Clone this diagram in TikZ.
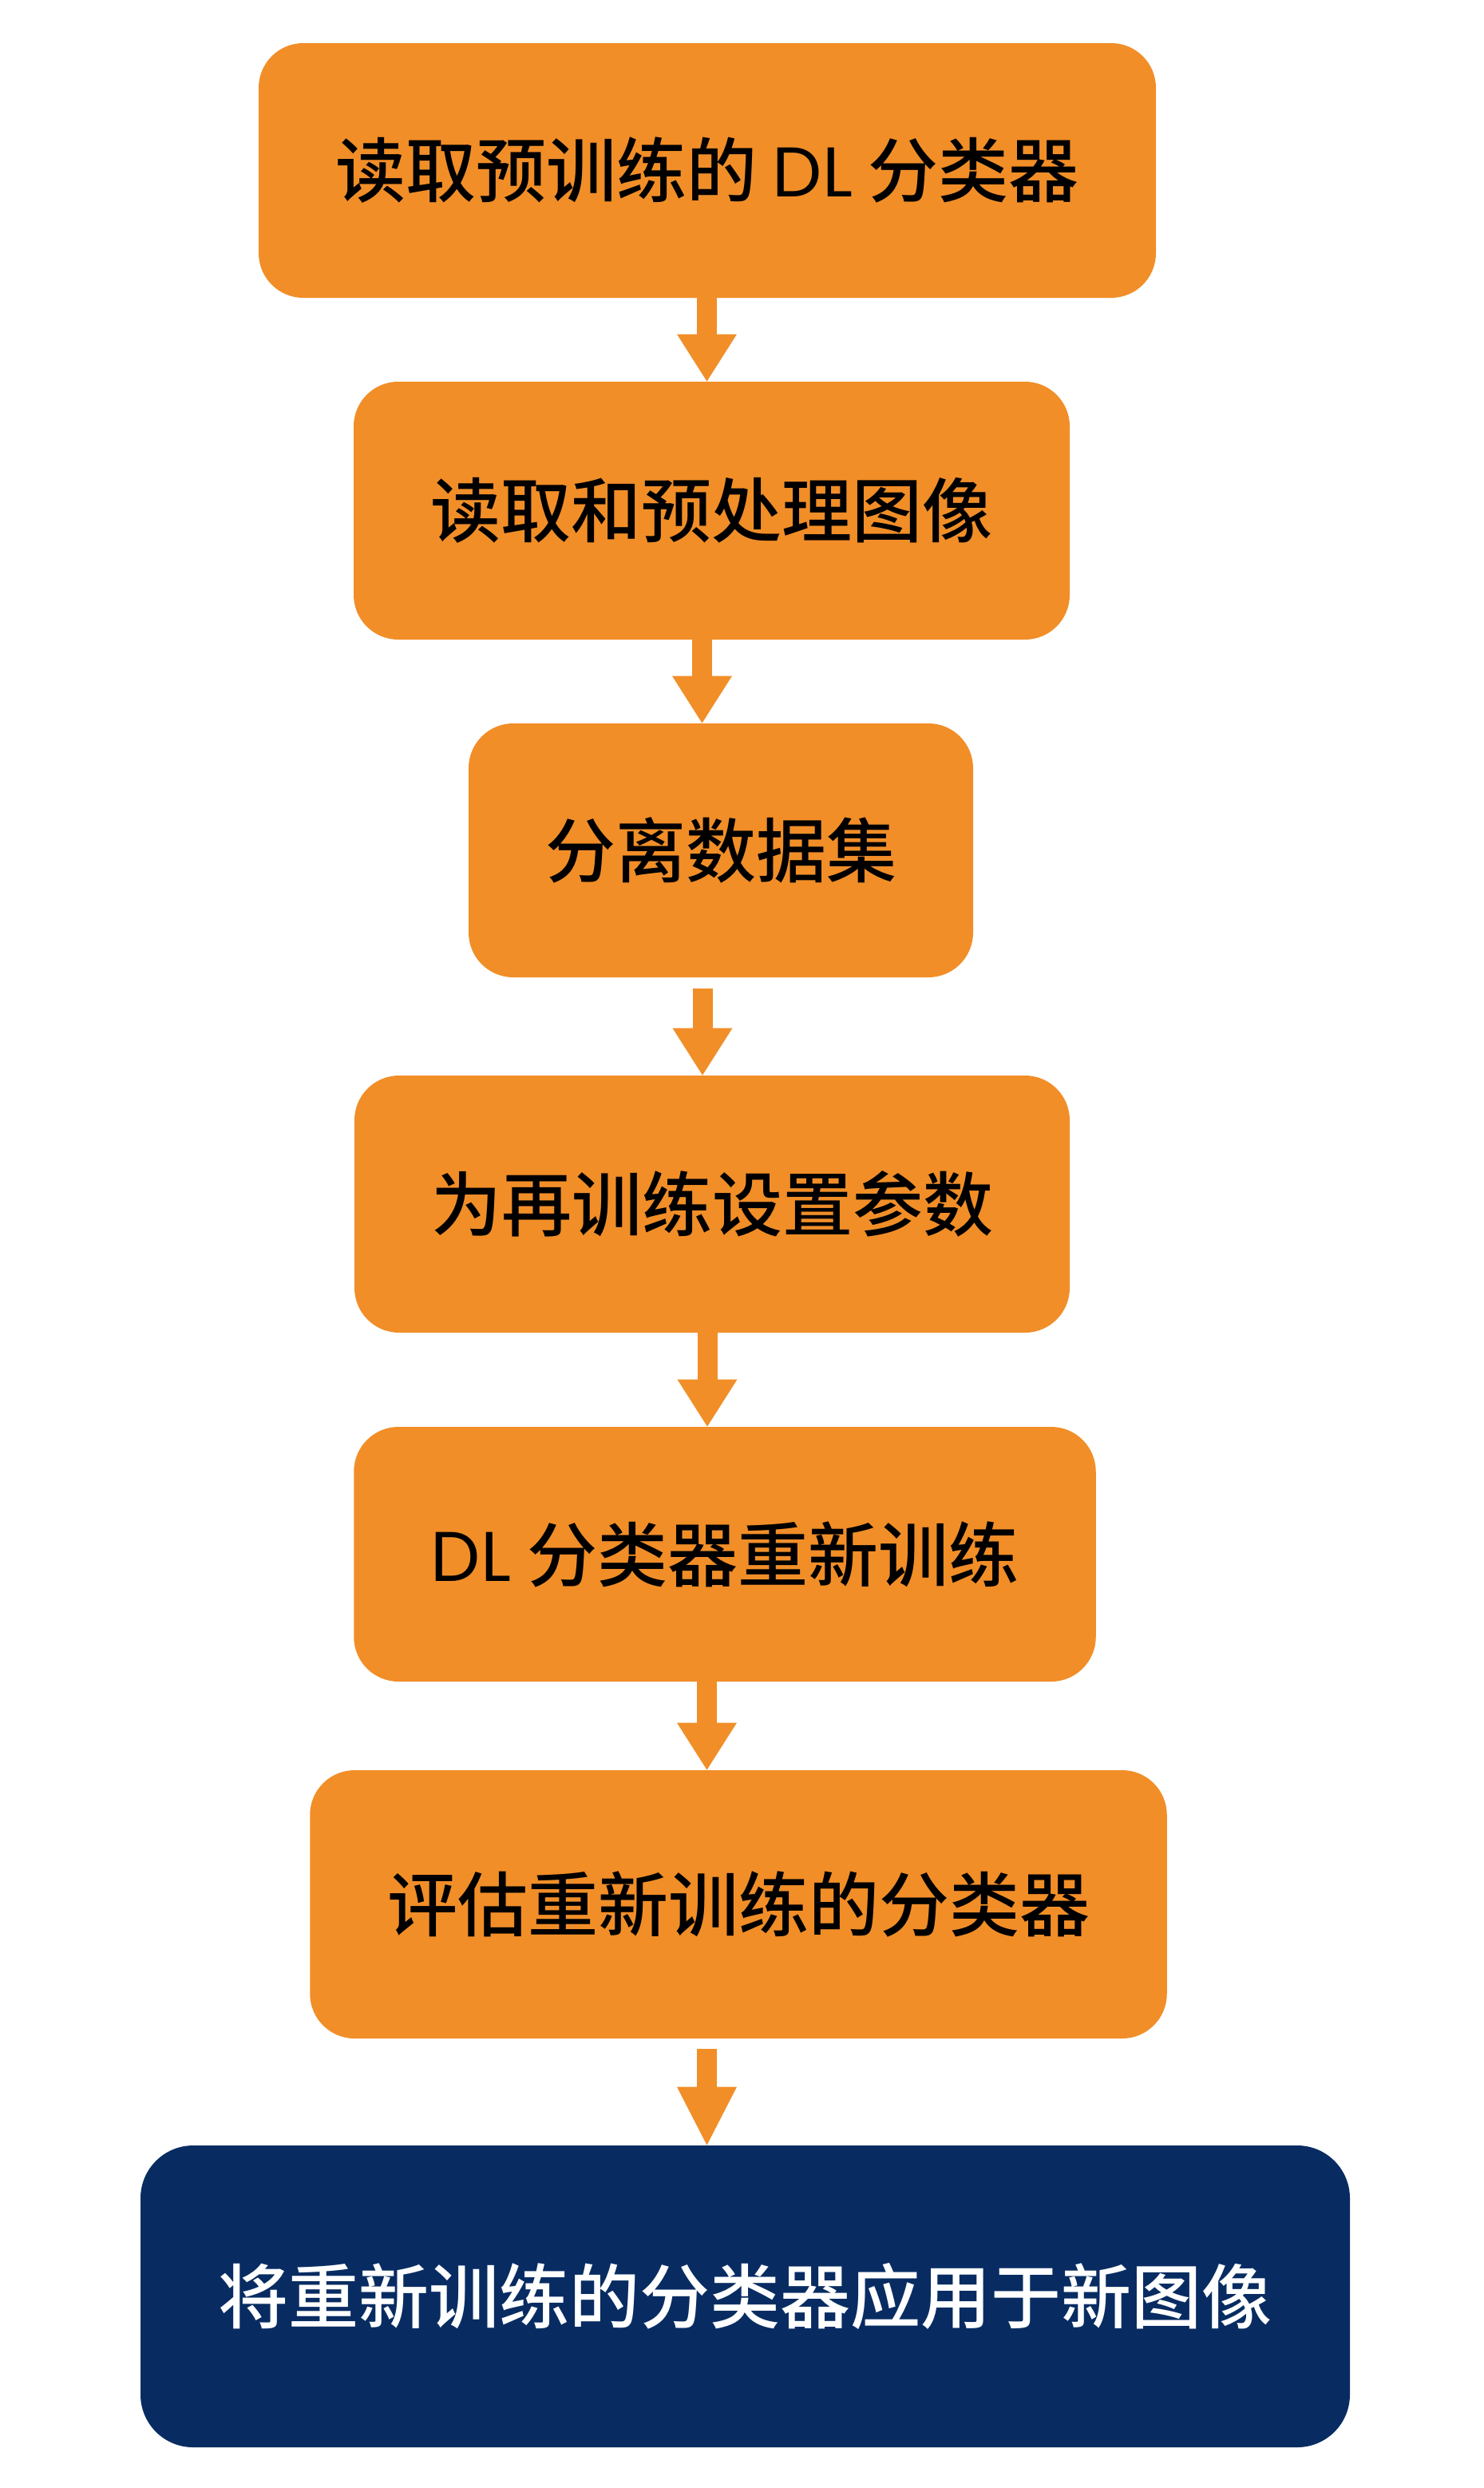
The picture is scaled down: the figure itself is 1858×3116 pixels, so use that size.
\documentclass[tikz,border=0pt]{standalone}
\usepackage{fontspec}
\setmainfont{Noto Sans CJK SC}[UprightFont={* Medium},BoldFont={* Medium}]
\newfontfamily\latinf{Poppins}
\usetikzlibrary{arrows.meta}
\definecolor{boxorange}{RGB}{241,142,40}
\definecolor{boxnavy}{RGB}{8,44,98}
\begin{document}
\begin{tikzpicture}[x=0.5pt,y=-0.5pt,
  stepbox/.style={fill=boxorange, rounded corners=28pt, inner sep=0pt, text=black,
    font=\fontsize{44}{52}\selectfont},
  finalbox/.style={fill=boxnavy, rounded corners=33pt, inner sep=0pt, text=white,
    font=\fontsize{44}{52}\selectfont},
  flow/.style={draw=boxorange, line width=12.5pt,
    -{Triangle[width=37.5pt,length=29.5pt,line width=0pt]}},
  flowlong/.style={draw=boxorange, line width=12.5pt,
    -{Triangle[width=37.5pt,length=36.5pt,line width=0pt]}}]
\useasboundingbox (0,0) rectangle (1858,3116);
\node[stepbox, minimum width=562pt, minimum height=159.5pt] (b1) at (886,213.5)
  {读取预训练的 {\latinf DL} 分类器};
\node[stepbox, minimum width=448.5pt, minimum height=161.5pt] (b2) at (891.5,639.5)
  {读取和预处理图像};
\node[stepbox, minimum width=316pt, minimum height=159pt] (b3) at (903,1065)
  {分离数据集};
\node[stepbox, minimum width=448pt, minimum height=161pt] (b4) at (892,1508)
  {为再训练设置参数};
\node[stepbox, minimum width=464.75pt, minimum height=159.5pt] (b5) at (908,1946.5)
  {{\latinf DL} 分类器重新训练};
\node[stepbox, minimum width=536.75pt, minimum height=168pt] (b6) at (925,2385)
  {评估重新训练的分类器};
\node[finalbox, minimum width=757.5pt, minimum height=189pt] (b7) at (933.5,2876)
  {将重新训练的分类器应用于新图像};
\coordinate (a1) at (885.5,0);
\coordinate (a2) at (879.5,0);
\coordinate (a3) at (880,0);
\coordinate (a4) at (886,0);
\coordinate (a5) at (885.5,0);
\coordinate (a6) at (885.5,0);
\draw[flow] (b1.south -| a1) -- (b2.north -| a1);
\draw[flow] (b2.south -| a2) -- (b3.north -| a2);
\draw[flow, shorten <=7pt] (b3.south -| a3) -- (b4.north -| a3);
\draw[flow] (b4.south -| a4) -- (b5.north -| a4);
\draw[flow] (b5.south -| a5) -- (b6.north -| a5);
\draw[flowlong, shorten <=6.5pt] (b6.south -| a6) -- (b7.north -| a6);
\end{tikzpicture}
\end{document}
